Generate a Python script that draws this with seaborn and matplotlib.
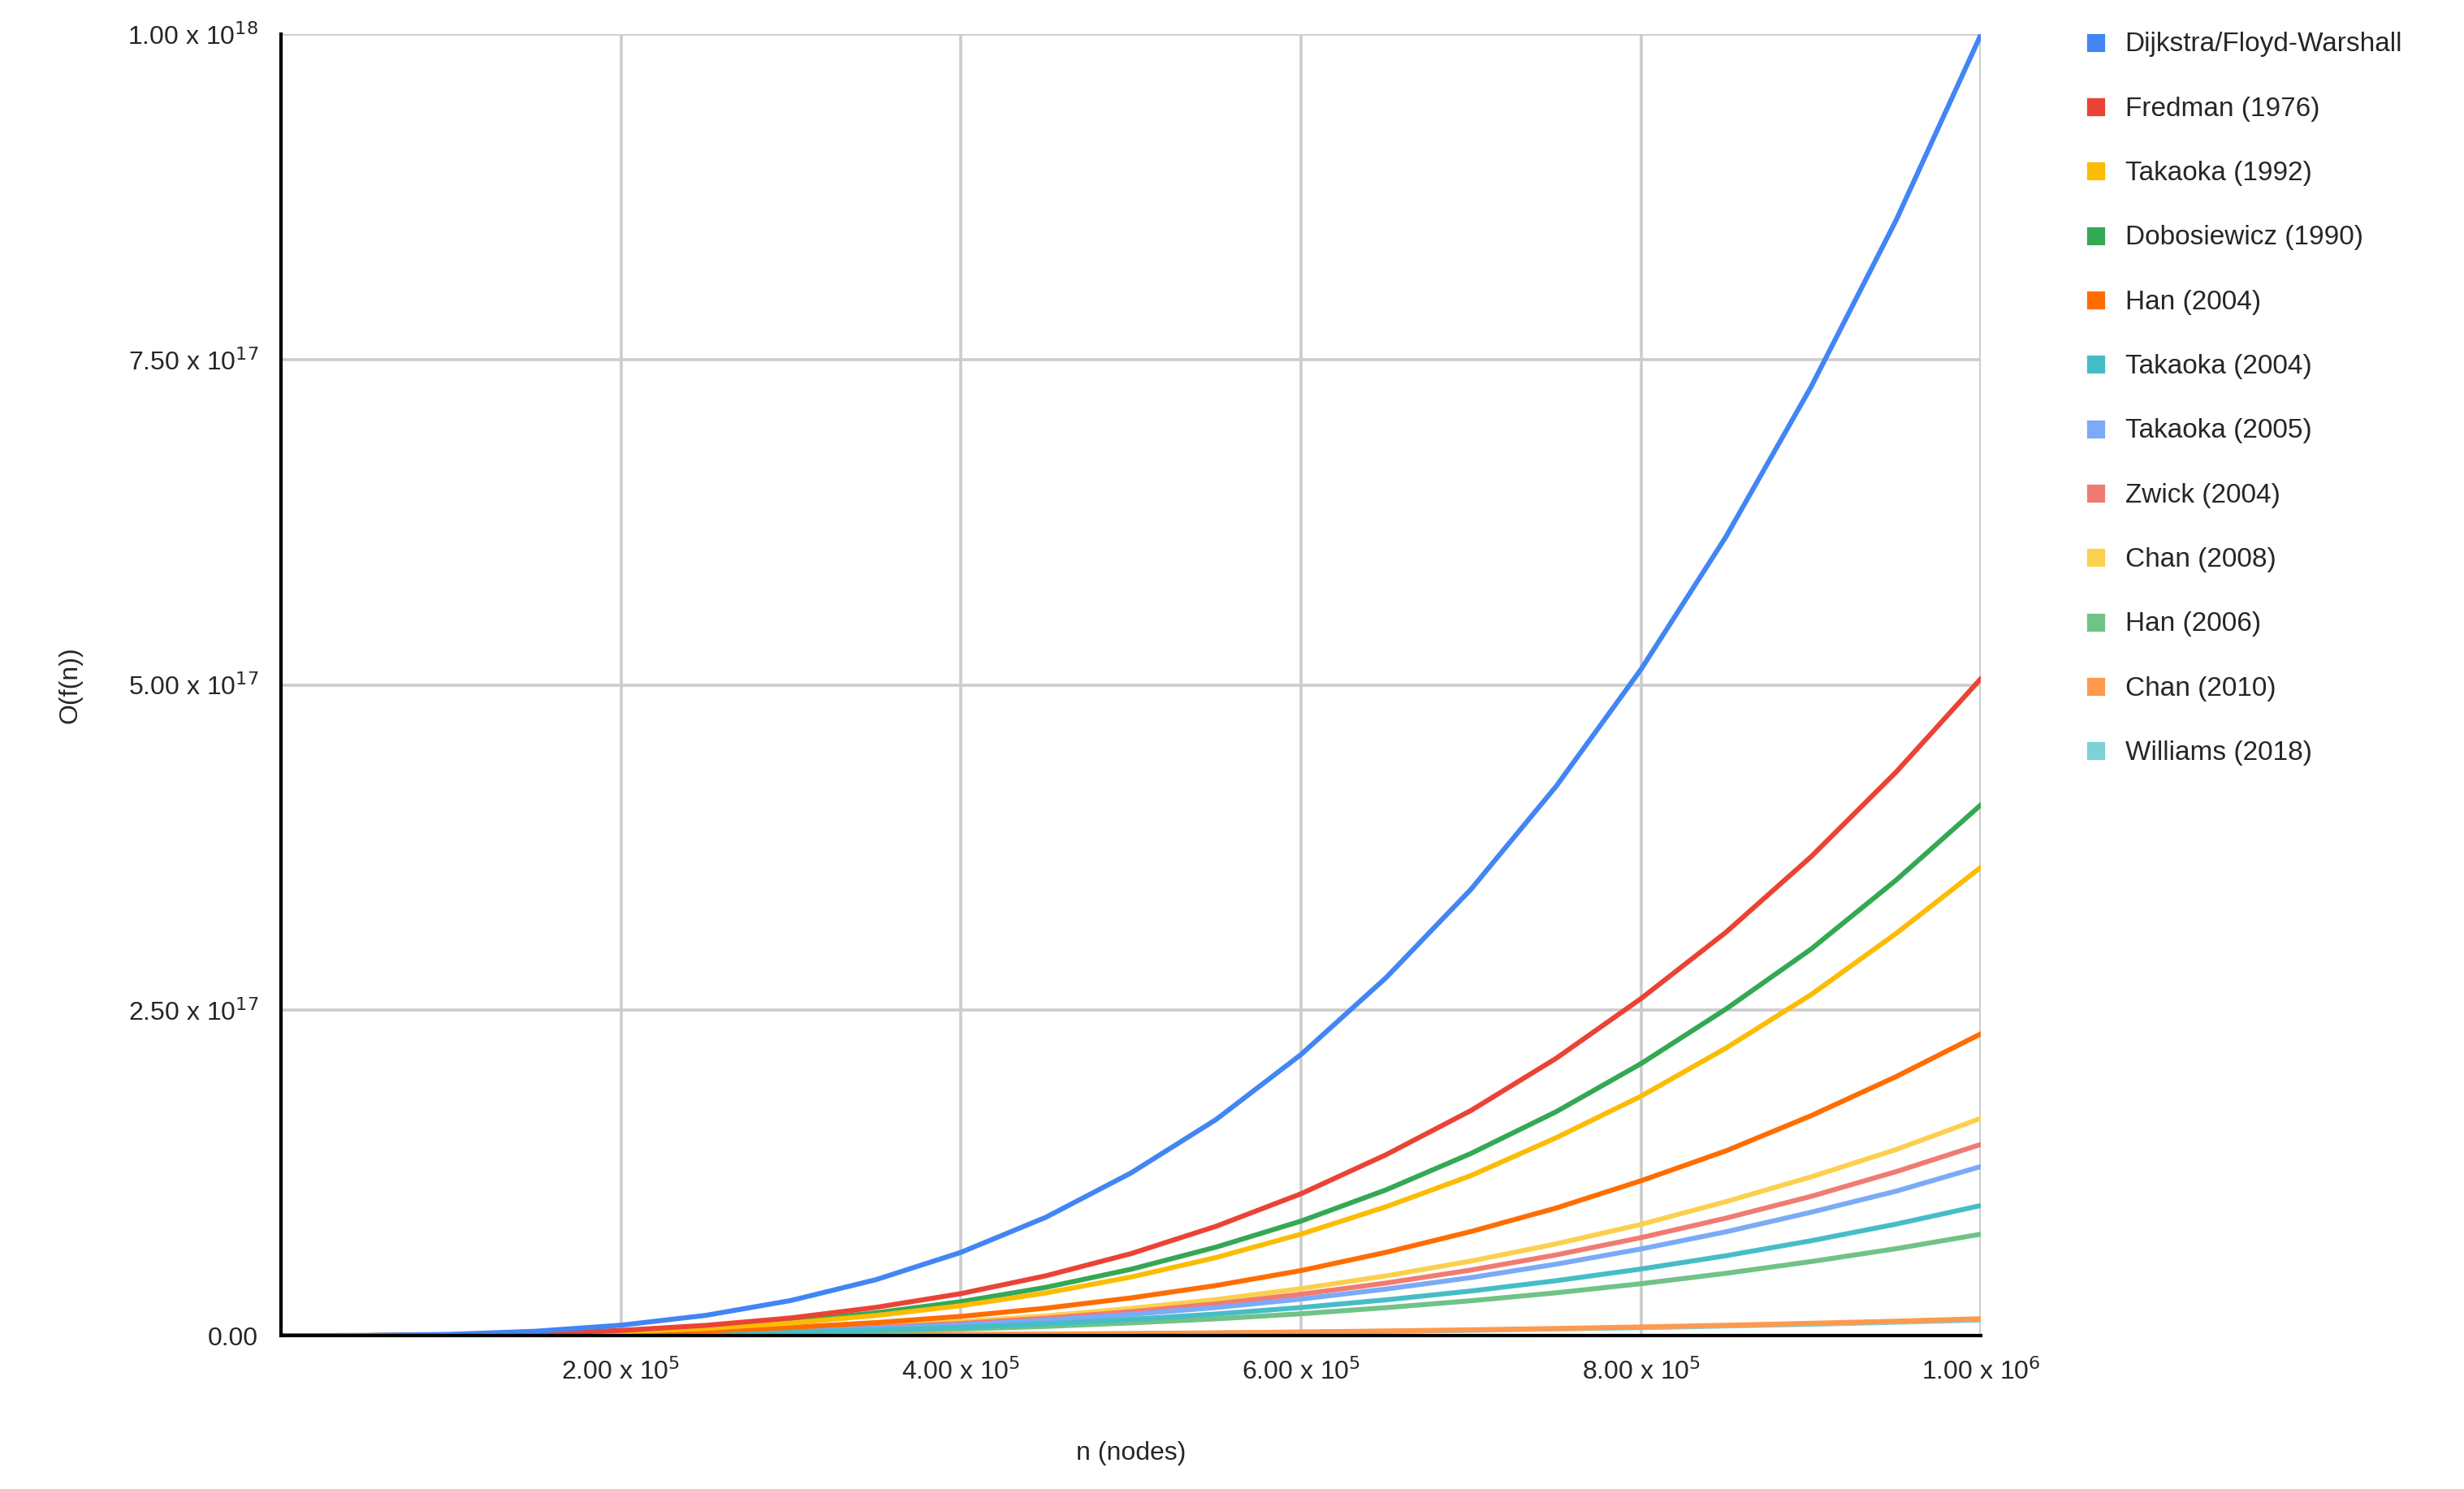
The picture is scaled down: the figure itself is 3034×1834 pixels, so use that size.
import matplotlib
matplotlib.use("Agg")
import matplotlib.pyplot as plt
import seaborn as sns
import pandas as pd
from matplotlib.lines import Line2D

n_nodes = [i * 5e4 for i in range(21)]
names = ["Dijkstra/Floyd-Warshall", "Fredman (1976)", "Takaoka (1992)", "Dobosiewicz (1990)",
         "Han (2004)", "Takaoka (2004)", "Takaoka (2005)", "Zwick (2004)", "Chan (2008)",
         "Han (2006)", "Chan (2010)", "Williams (2018)"]
colors = ["#4285F4", "#EA4335", "#FBBC04", "#34A853", "#FF6D01", "#46BDC6", "#7BAAF7",
          "#F07B72", "#FCD04F", "#71C287", "#FF994D", "#7ED1D7"]
# values in units of 1e17
dijkstra = [0,0.00125,0.01,0.034,0.08,0.156,0.27,0.43,0.64,0.91,1.25,1.66,2.16,2.75,3.43,4.22,5.12,6.14,7.29,8.57,10.0]
fredman = [0,0.0006,0.005,0.017,0.040,0.079,0.136,0.217,0.323,0.46,0.63,0.84,1.09,1.39,1.73,2.13,2.59,3.10,3.68,4.33,5.05]
takaoka1992 = [0,0.0005,0.0036,0.012,0.029,0.056,0.097,0.155,0.230,0.328,0.45,0.60,0.78,0.99,1.23,1.52,1.84,2.21,2.62,3.09,3.60]
dobosiewicz = [0,0.0005,0.004,0.014,0.033,0.064,0.110,0.175,0.261,0.371,0.51,0.68,0.88,1.12,1.40,1.72,2.09,2.51,2.97,3.50,4.08]
han2004 = [0,0.0003,0.0023,0.008,0.019,0.036,0.063,0.100,0.148,0.211,0.29,0.385,0.50,0.64,0.80,0.98,1.19,1.42,1.69,1.99,2.32]
takaoka2004 = [0,0.0001,0.001,0.0034,0.008,0.0156,0.027,0.043,0.064,0.091,0.125,0.166,0.216,0.275,0.343,0.422,0.512,0.614,0.729,0.857,1.0]
takaoka2005 = [0,0.0002,0.0013,0.0044,0.010,0.020,0.035,0.056,0.083,0.118,0.163,0.216,0.281,0.358,0.446,0.549,0.666,0.798,0.948,1.11,1.30]
zwick2004 = [0,0.0002,0.0015,0.005,0.012,0.023,0.040,0.063,0.094,0.134,0.184,0.244,0.318,0.404,0.504,0.620,0.753,0.903,1.07,1.26,1.47]
chan2008 = [0,0.0002,0.0017,0.0057,0.013,0.026,0.045,0.072,0.107,0.152,0.209,0.277,0.361,0.459,0.573,0.705,0.855,1.03,1.22,1.43,1.67]
han2006 = [0,0.0001,0.0008,0.0027,0.0062,0.012,0.021,0.034,0.050,0.071,0.098,0.129,0.168,0.215,0.268,0.329,0.399,0.479,0.569,0.668,0.78]
chan2010 = [0,0,0.0001,0.0004,0.001,0.002,0.0035,0.0056,0.0083,0.0118,0.0163,0.0216,0.0281,0.0358,0.0446,0.0549,0.0666,0.0798,0.0948,0.111,0.13]
williams2018 = [0,0,0.0001,0.0004,0.001,0.0019,0.0032,0.0052,0.0077,0.0109,0.015,0.02,0.026,0.033,0.041,0.051,0.061,0.074,0.087,0.103,0.12]
series = [dijkstra, fredman, takaoka1992, dobosiewicz, han2004, takaoka2004, takaoka2005,
          zwick2004, chan2008, han2006, chan2010, williams2018]

rows = []
for nm, vals in zip(names, series):
    for x, v in zip(n_nodes, vals):
        rows.append({"n": x, "v": v * 1e17, "alg": nm})
df = pd.DataFrame(rows)

sns.set_style("white")
plt.rcParams['font.family'] = ['Liberation Sans', 'DejaVu Sans']
fig = plt.figure(figsize=(15.17, 9.17), dpi=200)
ax = fig.add_axes([0.114, 0.103, 0.69, 0.874])
sns.lineplot(data=df, x="n", y="v", hue="alg", hue_order=names[::-1], palette=colors[::-1],
             linewidth=2.2, ax=ax, legend=False)
ax.set_xlim(0, 1e6)
ax.set_ylim(0, 1e18)
xt = [2e5, 4e5, 6e5, 8e5, 1e6]
ax.set_xticks(xt)
ax.set_xticklabels([r"2.00 x 10$^{5}$", r"4.00 x 10$^{5}$", r"6.00 x 10$^{5}$", r"8.00 x 10$^{5}$", r"1.00 x 10$^{6}$"])
yt = [0, 2.5e17, 5e17, 7.5e17, 1e18]
ax.set_yticks(yt)
ax.set_yticklabels(["0.00", r"2.50 x 10$^{17}$", r"5.00 x 10$^{17}$", r"7.50 x 10$^{17}$", r"1.00 x 10$^{18}$"])
ax.grid(True, color="#cccccc", linewidth=1.3)
ax.axvline(1e6, color="#cccccc", linewidth=1.3, zorder=0)
for s in ["top", "right"]:
    ax.spines[s].set_visible(False)
ax.spines["left"].set_color("black"); ax.spines["left"].set_linewidth(1.5)
ax.spines["bottom"].set_color("black"); ax.spines["bottom"].set_linewidth(1.5)
ax.tick_params(labelsize=11.5, length=0, pad=10)
ax.set_xlabel("n (nodes)", fontsize=11.5, labelpad=25)
ax.set_ylabel("O(f(n))", fontsize=11.5, labelpad=20)
handles = [Line2D([0], [0], marker="s", color="w", markerfacecolor=c, markersize=9, linestyle="")
           for c in colors]
fig.legend(handles, names, loc="upper left", bbox_to_anchor=(0.835, 0.995), frameon=False,
           fontsize=12, labelspacing=1.45, handletextpad=0.6, handlelength=1.0)
fig.savefig("out.png", dpi=200)
